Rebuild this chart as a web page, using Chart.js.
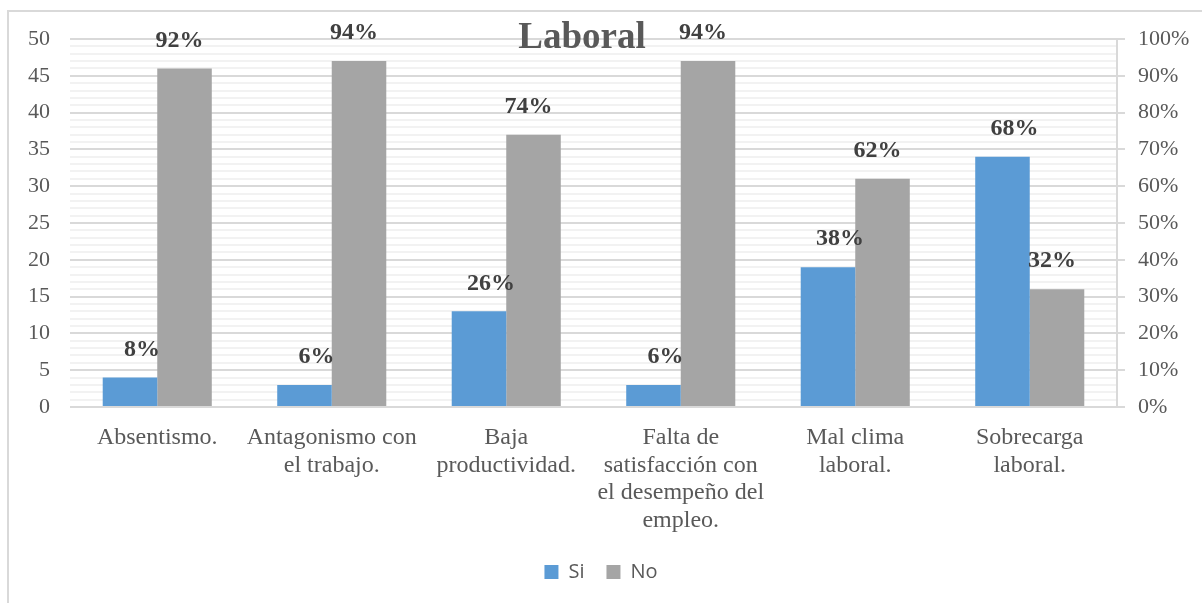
<!DOCTYPE html>
<html lang="es">
<head>
    <meta charset="UTF-8">
    <title>Laboral</title>
    <script src="https://cdn.jsdelivr.net/npm/chart.js"></script>
    <style>
        html, body { margin: 0; padding: 0; background: #fff; overflow: hidden; }
        #wrap { width: 1202px; height: 603px; }
    </style>
</head>
<body>
    <div id="wrap"><canvas id="laboralChart" width="1202" height="603"></canvas></div>
    <script>
        const categories = [
            'Absentismo.',
            ['Antagonismo con', 'el trabajo.'],
            ['Baja', 'productividad.'],
            ['Falta de', 'satisfacción con', 'el desempeño del', 'empleo.'],
            ['Mal clima', 'laboral.'],
            ['Sobrecarga', 'laboral.']
        ];
        const siCounts = [4, 3, 13, 3, 19, 34];
        const noCounts = [46, 47, 37, 47, 31, 16];
        const totalRespondents = 50;
        const countTicks = [0, 50];
        const percentTicks = [0, 100];

        const serif = "'Liberation Serif', 'Times New Roman', serif";
        const textGray = '#595959';

        // outer frame of the chart object
        const framePlugin = {
            id: 'frame',
            beforeDraw(chart) {
                const ctx = chart.ctx;
                ctx.save();
                ctx.strokeStyle = '#d9d9d9';
                ctx.lineWidth = 2;
                ctx.strokeRect(8, 11, chart.width + 20, chart.height + 20);
                ctx.restore();
            }
        };

        // percentage labels over each bar
        const pctLabelPlugin = {
            id: 'pctLabels',
            afterDatasetsDraw(chart) {
                const ctx = chart.ctx;
                ctx.save();
                ctx.font = "bold 24px " + serif;
                ctx.fillStyle = '#404040';
                ctx.textAlign = 'center';
                ctx.textBaseline = 'middle';
                const shift = [12, -5];
                chart.data.datasets.forEach((ds, i) => {
                    chart.getDatasetMeta(i).data.forEach((bar, j) => {
                        const pct = Math.round(ds.data[j] / totalRespondents * 100);
                        ctx.fillText(pct + '%', bar.x + shift[i], bar.y - 28);
                    });
                });
                ctx.restore();
            }
        };

        // title sits over the top of the plot area
        const titlePlugin = {
            id: 'overTitle',
            afterDraw(chart) {
                const ctx = chart.ctx;
                ctx.save();
                ctx.font = "bold 37px " + serif;
                ctx.fillStyle = textGray;
                ctx.textAlign = 'center';
                ctx.textBaseline = 'alphabetic';
                ctx.fillText('Laboral', 582, 48);
                ctx.restore();
            }
        };

        const ctx = document.getElementById('laboralChart').getContext('2d');
        new Chart(ctx, {
            type: 'bar',
            data: {
                labels: categories,
                datasets: [
                    { label: 'Si', data: siCounts, backgroundColor: '#5b9bd5', yAxisID: 'y' },
                    { label: 'No', data: noCounts, backgroundColor: '#a5a5a5', yAxisID: 'y' }
                ]
            },
            options: {
                responsive: false,
                animation: false,
                layout: { padding: { top: 39, left: 0, right: 0, bottom: 11 } },
                datasets: { bar: { categoryPercentage: 0.625, barPercentage: 1.0 } },
                plugins: {
                    title: { display: false },
                    tooltip: { enabled: false },
                    legend: {
                        position: 'bottom',
                        labels: {
                            boxWidth: 14,
                            boxHeight: 14,
                            padding: 22,
                            color: textGray,
                            font: { family: "'Open Sans', sans-serif", size: 20 }
                        }
                    }
                },
                scales: {
                    x: {
                        grid: { display: false },
                        border: { display: false },
                        ticks: {
                            color: textGray,
                            font: { family: serif, size: 24, lineHeight: 1.15 },
                            padding: 9,
                            maxRotation: 0,
                            autoSkip: false
                        },
                        afterFit(scale) { scale.height = 133; }
                    },
                    y: {
                        position: 'left',
                        min: countTicks[0],
                        max: countTicks[1],
                        border: { display: false },
                        grid: {
                            drawTicks: false,
                            lineWidth: 2,
                            color: c => (c.tick && c.tick.value % 5 === 0) ? '#d9d9d9' : '#f2f2f2'
                        },
                        ticks: {
                            stepSize: 1,
                            autoSkip: false,
                            padding: 20,
                            color: textGray,
                            font: { family: serif, size: 22 },
                            callback: v => (v % 5 === 0 ? v : '')
                        },
                        afterFit(scale) { scale.width = 70; }
                    },
                    y2: {
                        position: 'right',
                        min: percentTicks[0],
                        max: percentTicks[1],
                        border: { display: true, color: '#d9d9d9', width: 2 },
                        grid: {
                            drawOnChartArea: false,
                            drawTicks: true,
                            tickLength: 8,
                            lineWidth: 2,
                            color: '#d9d9d9'
                        },
                        ticks: {
                            stepSize: 10,
                            padding: 13,
                            color: textGray,
                            font: { family: serif, size: 22 },
                            callback: v => v + '%'
                        },
                        afterFit(scale) { scale.width = 85; }
                    }
                }
            },
            plugins: [framePlugin, pctLabelPlugin, titlePlugin]
        });
    </script>
</body>
</html>
